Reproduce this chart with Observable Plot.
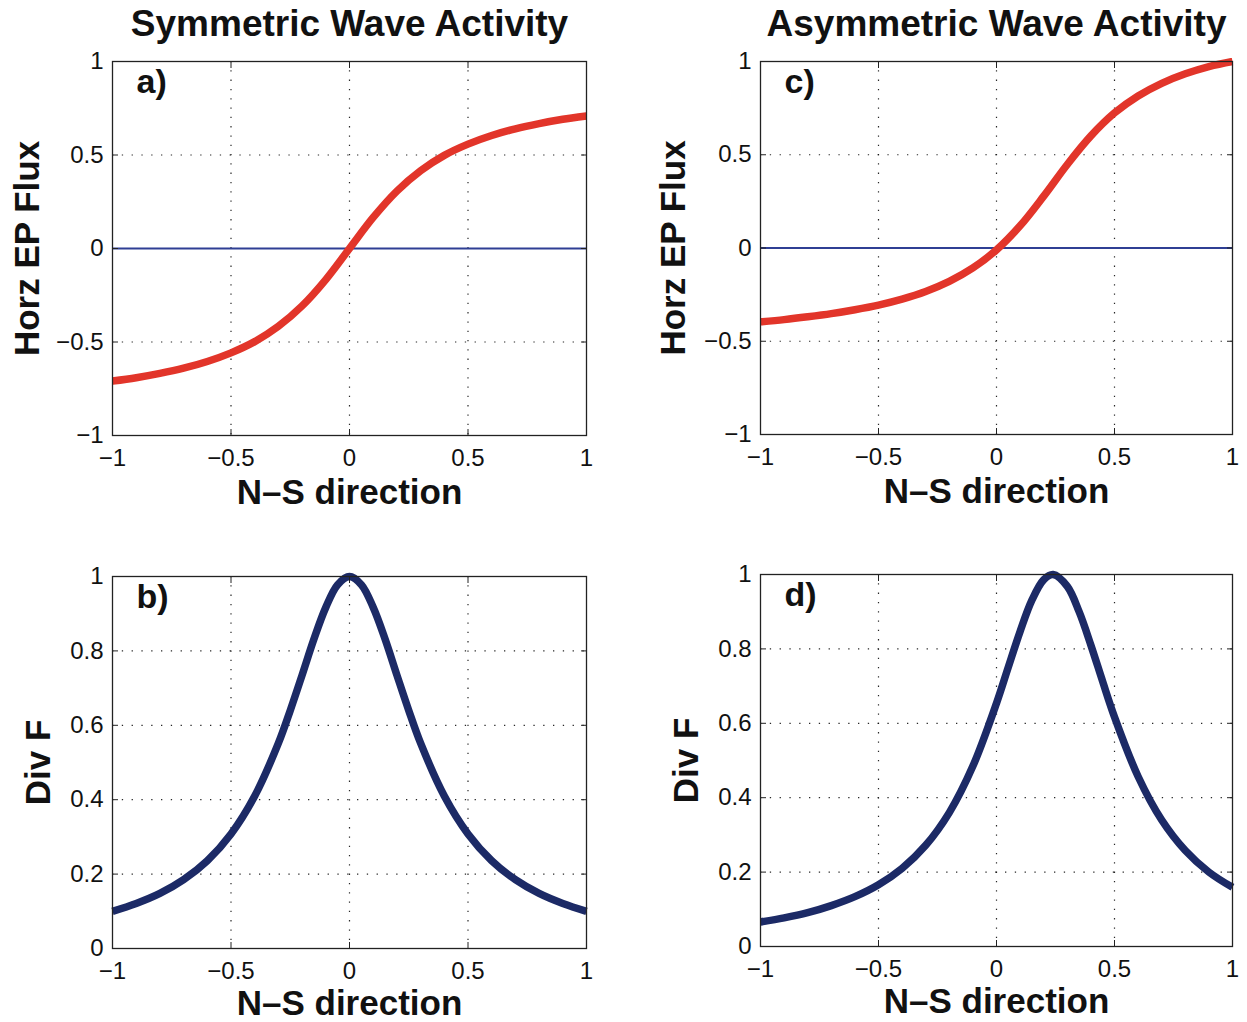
<!DOCTYPE html>
<html>
<head>
<meta charset="utf-8">
<script src="https://cdn.jsdelivr.net/npm/d3@7"></script>
<script src="https://cdn.jsdelivr.net/npm/@observablehq/plot@0.6"></script>
<style>
  html, body { margin: 0; padding: 0; background: #fff; }
  #wrap { position: relative; width: 1247px; height: 1022px; background: #fff; overflow: hidden; }
  #wrap > div { position: absolute; }
</style>
</head>
<body>
<div id="wrap">
  <div id="pa" style="left:0px;top:0px"></div>
  <div id="pc" style="left:620px;top:0px"></div>
  <div id="pb" style="left:0px;top:520px"></div>
  <div id="pd" style="left:620px;top:520px"></div>
</div>
<script>
// ---- data ----
const xTicks = [-1, -0.5, 0, 0.5, 1];
const fluxTicks = [-1, -0.5, 0, 0.5, 1];
const divTicks = [0, 0.2, 0.4, 0.6, 0.8, 1];

const titles = ["Symmetric Wave Activity", "Asymmetric Wave Activity"];
const panelTags = ["a)", "b)", "c)", "d)"];
const xLabel = "N\u2013S direction";
const fluxLabel = "Horz EP Flux";
const divLabel = "Div F";

// a) symmetric horizontal EP flux
const xSymFlux = [-1, -0.9, -0.8, -0.7, -0.6, -0.5, -0.4, -0.3, -0.2, -0.1, 0, 0.1, 0.2, 0.3, 0.4, 0.5, 0.6, 0.7, 0.8, 0.9, 1];
const symFlux  = [-0.709, -0.691, -0.668, -0.640, -0.604, -0.558, -0.498, -0.416, -0.307, -0.166, 0, 0.166, 0.307, 0.416, 0.498, 0.558, 0.604, 0.640, 0.668, 0.691, 0.709];

// b) symmetric divergence
const xSymDiv = [-1, -0.9, -0.8, -0.7, -0.6, -0.5, -0.4, -0.3, -0.25, -0.2, -0.15, -0.1, -0.05, 0, 0.05, 0.1, 0.15, 0.2, 0.25, 0.3, 0.4, 0.5, 0.6, 0.7, 0.8, 0.9, 1];
const symDiv  = [0.100, 0.121, 0.148, 0.185, 0.236, 0.308, 0.410, 0.552, 0.640, 0.735, 0.832, 0.917, 0.978, 1.000, 0.978, 0.917, 0.832, 0.735, 0.640, 0.552, 0.410, 0.308, 0.236, 0.185, 0.148, 0.121, 0.100];

// c) asymmetric horizontal EP flux
const xAsymFlux = [-1, -0.9, -0.8, -0.7, -0.6, -0.5, -0.4, -0.3, -0.2, -0.1, 0, 0.1, 0.2, 0.3, 0.4, 0.5, 0.6, 0.7, 0.8, 0.9, 1];
const asymFlux  = [-0.396, -0.384, -0.369, -0.352, -0.331, -0.306, -0.274, -0.233, -0.179, -0.107, -0.010, 0.119, 0.278, 0.448, 0.601, 0.724, 0.815, 0.883, 0.934, 0.973, 1.000];

// d) asymmetric divergence
const xAsymDiv = [-1, -0.9, -0.8, -0.7, -0.6, -0.5, -0.4, -0.3, -0.2, -0.1, 0, 0.05, 0.1, 0.15, 0.2, 0.24, 0.3, 0.35, 0.4, 0.45, 0.5, 0.6, 0.7, 0.8, 0.9, 1];
const asymDiv  = [0.066, 0.077, 0.091, 0.110, 0.134, 0.166, 0.210, 0.272, 0.360, 0.485, 0.654, 0.751, 0.847, 0.931, 0.986, 1.000, 0.968, 0.900, 0.810, 0.712, 0.617, 0.457, 0.340, 0.258, 0.200, 0.159];

const RED = "#e2352a";
const NAVY = "#1c2a66";
const ZERO_BLUE = "#2f3f94";
const FONT = "'Liberation Sans', Arial, Helvetica, sans-serif";

function zip(xs, ys) { return xs.map((x, i) => ({x, y: ys[i]})); }

function panel(opts) {
  const {data, yDomain, yTicks, yLabel, yLabelDx, tag, title, stroke, zero,
         width, height, mt, mb, ml, mr, xLabelDy} = opts;
  const marks = [
    Plot.gridX(xTicks.filter(v => v > -1 && v < 1), {stroke: "#111", strokeOpacity: 0.9, strokeWidth: 1.2, strokeDasharray: "1.3,8"}),
    Plot.gridY(yTicks.filter(v => v > yDomain[0] && v < yDomain[1]), {stroke: "#111", strokeOpacity: 0.9, strokeWidth: 1.2, strokeDasharray: "1.3,8.5"}),
  ];
  if (zero) marks.push(Plot.ruleY([0], {stroke: ZERO_BLUE, strokeWidth: 2.2}));
  marks.push(
    Plot.line(data, {x: "x", y: "y", stroke, strokeWidth: 7.5, curve: "catmull-rom", strokeLinecap: "butt"}),
    Plot.frame({stroke: "#222", strokeWidth: 1.3}),
    Plot.axisX(xTicks, {anchor: "bottom", tickSize: -6, tickPadding: 19, fontSize: 24, label: null, tickFormat: d3.format("~g"), stroke: "#222"}),
    Plot.axisX(xTicks, {anchor: "top", tickSize: -6, label: null, tickFormat: () => "", stroke: "#222"}),
    Plot.axisY(yTicks, {anchor: "left", tickSize: -6, tickPadding: 15, fontSize: 24, label: null, tickFormat: d3.format("~g"), stroke: "#222"}),
    Plot.axisY(yTicks, {anchor: "right", tickSize: -6, label: null, tickFormat: () => "", stroke: "#222"}),
    Plot.text([yLabel], {text: d => d, frameAnchor: "left", dx: yLabelDx, rotate: -90, textAnchor: "middle", lineAnchor: "middle", fontSize: 35, fontWeight: "bold", fill: "#111"}),
    Plot.text([xLabel], {text: d => d, frameAnchor: "bottom", dy: xLabelDy, textAnchor: "middle", lineAnchor: "middle", fontSize: 35, fontWeight: "bold", fill: "#111"}),
    Plot.text([tag], {text: d => d, frameAnchor: "top-left", dx: 24, dy: 21, textAnchor: "start", lineAnchor: "middle", fontSize: 34, fontWeight: "bold", fill: "#111"})
  );
  if (title) marks.push(Plot.text([title], {text: d => d, frameAnchor: "top", dy: -37, textAnchor: "middle", lineAnchor: "middle", fontSize: 37, fontWeight: "bold", fill: "#111"}));
  return Plot.plot({
    width, height,
    marginTop: mt, marginBottom: mb, marginLeft: ml, marginRight: mr,
    x: {domain: [-1, 1], axis: null},
    y: {domain: yDomain, axis: null},
    style: {fontFamily: FONT, fontSize: "24px", color: "#111", background: "white", overflow: "visible"},
    marks
  });
}

document.getElementById("pa").append(panel({
  data: zip(xSymFlux, symFlux), yDomain: [-1, 1], yTicks: fluxTicks, yLabel: fluxLabel, yLabelDx: -85,
  tag: panelTags[0], title: titles[0], stroke: RED, zero: true,
  width: 620, height: 520, mt: 61, mb: 85, ml: 112, mr: 34, xLabelDy: 57
}));
document.getElementById("pc").append(panel({
  data: zip(xAsymFlux, asymFlux), yDomain: [-1, 1], yTicks: fluxTicks, yLabel: fluxLabel, yLabelDx: -87,
  tag: panelTags[2], title: titles[1], stroke: RED, zero: true,
  width: 627, height: 520, mt: 61, mb: 86, ml: 140, mr: 15, xLabelDy: 57
}));
document.getElementById("pb").append(panel({
  data: zip(xSymDiv, symDiv), yDomain: [0, 1], yTicks: divTicks, yLabel: divLabel, yLabelDx: -74,
  tag: panelTags[1], title: null, stroke: NAVY, zero: false,
  width: 620, height: 502, mt: 56, mb: 74, ml: 112, mr: 34, xLabelDy: 55
}));
document.getElementById("pd").append(panel({
  data: zip(xAsymDiv, asymDiv), yDomain: [0, 1], yTicks: divTicks, yLabel: divLabel, yLabelDx: -74,
  tag: panelTags[3], title: null, stroke: NAVY, zero: false,
  width: 627, height: 502, mt: 54, mb: 76, ml: 140, mr: 15, xLabelDy: 55
}));
</script>
</body>
</html>
